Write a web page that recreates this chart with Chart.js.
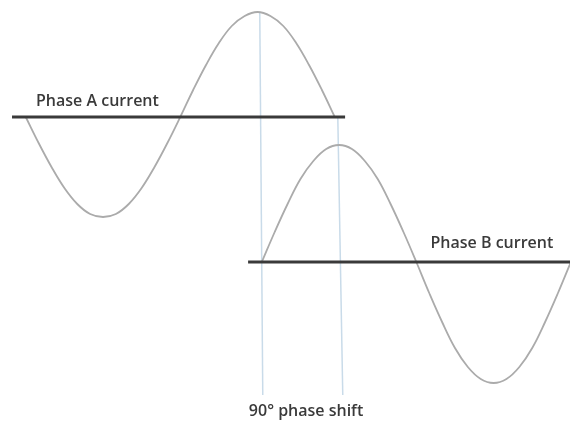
<!DOCTYPE html>
<html>
<head>
<meta charset="utf-8">
<script src="https://cdn.jsdelivr.net/npm/chart.js@4/dist/chart.umd.min.js"></script>
<style>
  html, body { margin: 0; padding: 0; background: #ffffff; }
  #wrap { width: 570px; height: 427px; position: relative; }
</style>
</head>
<body>
<div id="wrap"><canvas id="c" width="570" height="427"></canvas></div>
<script>
// Phase angle (degrees) for Phase A samples and its current (arbitrary units)
const angleA = [0,15,30,45,60,75,90,105,120,135,150,165,180,195,210,225,240,255,270,285,300,315,330,345,360];
const currentA = [0,-0.26,-0.50,-0.71,-0.87,-0.97,-1.00,-0.97,-0.87,-0.71,-0.50,-0.26,0,0.27,0.52,0.74,0.91,1.01,1.05,1.01,0.91,0.74,0.52,0.27,0];

// Phase B samples
const angleB = [275,290,305,320,335,350,365,380,395,410,425,440,455,470,485,500,515,530,545,560,575,590,605,620,635];
const currentB = [0,0.30,0.58,0.83,1.01,1.13,1.17,1.13,1.01,0.83,0.58,0.30,0,-0.31,-0.60,-0.86,-1.05,-1.17,-1.21,-1.17,-1.05,-0.86,-0.60,-0.31,0];

// Zero-current axis extents (degrees)
const axisA = [-16, 372];
const axisB = [259, 634];

// Guide lines marking the 90° shift: [angle top, angle bottom], [current top, current bottom] on phase A scale
const guide1Angle = [272.6, 276.1];
const guide1Current = [1.05, -2.78];
const guide2Angle = [363.5, 369.3];
const guide2Current = [0, -2.78];

// Labels
const labelA = "Phase A current";
const labelB = "Phase B current";
const labelShift = "90° phase shift";
const labelAPos = [83.5, 0.16];
const labelBPos = [543, 0.19];
const labelShiftPos = [326.5, -2.94];

const pts = (xs, ys) => xs.map((x, i) => ({ x: x, y: ys[i] }));

const textPlugin = {
  id: 'textLabels',
  afterDatasetsDraw(chart) {
    const ctx = chart.ctx;
    const x = chart.scales.x, yA = chart.scales.yA, yB = chart.scales.yB;
    ctx.save();
    ctx.font = '600 16px "Open Sans", sans-serif';
    ctx.fillStyle = '#3a3a3a';
    ctx.textAlign = 'center';
    ctx.textBaseline = 'middle';
    ctx.fillText(labelA, x.getPixelForValue(labelAPos[0]), yA.getPixelForValue(labelAPos[1]));
    ctx.fillText(labelB, x.getPixelForValue(labelBPos[0]), yB.getPixelForValue(labelBPos[1]));
    ctx.fillText(labelShift, x.getPixelForValue(labelShiftPos[0]), yA.getPixelForValue(labelShiftPos[1]));
    ctx.restore();
  }
};

new Chart(document.getElementById('c'), {
  type: 'scatter',
  data: {
    datasets: [
      { data: pts(axisA, [0, 0]), yAxisID: 'yA', showLine: true, borderColor: '#3a3a3a', borderWidth: 3, pointRadius: 0, order: 0 },
      { data: pts(axisB, [0, 0]), yAxisID: 'yB', showLine: true, borderColor: '#3a3a3a', borderWidth: 3, pointRadius: 0, order: 0 },
      { data: pts(angleA, currentA), yAxisID: 'yA', showLine: true, borderColor: '#ababab', borderWidth: 1.8, pointRadius: 0, tension: 0.4, order: 1 },
      { data: pts(angleB, currentB), yAxisID: 'yB', showLine: true, borderColor: '#ababab', borderWidth: 1.8, pointRadius: 0, tension: 0.4, order: 1 },
      { data: pts(guide1Angle, guide1Current), yAxisID: 'yA', showLine: true, borderColor: '#c9dbe9', borderWidth: 1.5, pointRadius: 0, order: 2 },
      { data: pts(guide2Angle, guide2Current), yAxisID: 'yA', showLine: true, borderColor: '#c9dbe9', borderWidth: 1.5, pointRadius: 0, order: 2 }
    ]
  },
  options: {
    responsive: false,
    animation: false,
    layout: { padding: 0 },
    plugins: { legend: { display: false }, tooltip: { enabled: false } },
    elements: { line: { borderCapStyle: 'butt' } },
    scales: {
      x: { type: 'linear', min: -30, max: 634, display: false },
      yA: { type: 'linear', min: -3.10, max: 1.17, display: false },
      yB: { type: 'linear', min: -1.65, max: 2.62, display: false }
    }
  },
  plugins: [textPlugin]
});
</script>
</body>
</html>
